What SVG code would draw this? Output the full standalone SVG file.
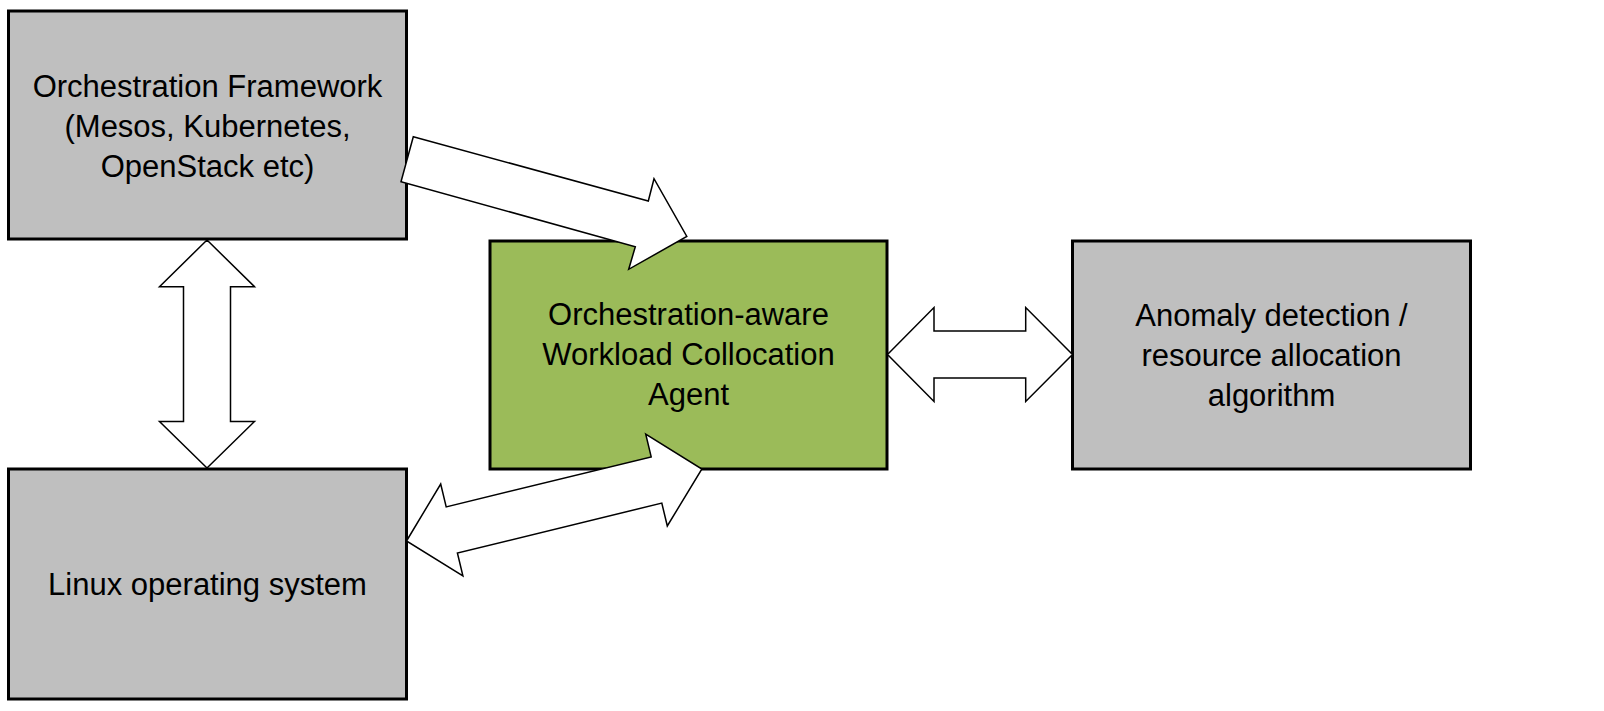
<svg xmlns="http://www.w3.org/2000/svg" width="1604" height="711" viewBox="0 0 1604 711">
  <style>
    .box { stroke: #000000; stroke-width: 3; }
    .gray { fill: #BFBFBF; }
    .green { fill: #9BBB59; }
    .label { font-family: "Liberation Sans", Arial, sans-serif; font-size: 31px; fill: #000000; text-anchor: middle; }
    .arrow { fill: #FFFFFF; stroke: #000000; stroke-width: 1.5; stroke-linejoin: miter; }
  </style>
  <rect x="0" y="0" width="1604" height="711" fill="#FFFFFF"/>
  <g id="node-orchestration-framework">
    <rect class="box gray" x="8.5" y="11" width="398" height="228"/>
    <text class="label" x="207.5" y="96.5">Orchestration Framework</text>
    <text class="label" x="207.5" y="136.5">(Mesos, Kubernetes,</text>
    <text class="label" x="207.5" y="176.5">OpenStack etc)</text>
  </g>
  <g id="node-linux-os">
    <rect class="box gray" x="8.5" y="469" width="398" height="230"/>
    <text class="label" x="207.5" y="595">Linux operating system</text>
  </g>
  <g id="node-agent">
    <rect class="box green" x="490" y="241" width="397" height="228"/>
    <text class="label" x="688.5" y="325">Orchestration-aware</text>
    <text class="label" x="688.5" y="365">Workload Collocation</text>
    <text class="label" x="688.5" y="405">Agent</text>
  </g>
  <g id="node-anomaly">
    <rect class="box gray" x="1072.5" y="241" width="398" height="228"/>
    <text class="label" x="1271.5" y="326">Anomaly detection /</text>
    <text class="label" x="1271.5" y="366">resource allocation</text>
    <text class="label" x="1271.5" y="406">algorithm</text>
  </g>
  <g id="connectors">
    <polygon id="arrow-framework-agent" class="arrow" points="413.3,136.7 648.3,201 654,178.7 686.8,236.5 628.7,269.3 635.3,246.7 401,181.7"/>
    <polygon id="arrow-framework-linux" class="arrow" points="207,240 254.5,286.7 230.5,286.7 230.5,421.5 254.5,421.5 207,468 159.5,421.5 183.5,421.5 183.5,286.7 159.5,286.7"/>
    <polygon id="arrow-agent-anomaly" class="arrow" points="887.5,354.5 934,307.5 934,331 1025.7,331 1025.7,307.5 1072.5,354.5 1025.7,401.5 1025.7,378 934,378 934,401.5"/>
    <polygon id="arrow-agent-linux" class="arrow" points="406.5,541 440.7,484 446.2,506.9 651.2,456.9 645.7,434 701.9,469 667.3,526 661.8,503.1 457.4,553 462.9,575.9"/>
  </g>
</svg>
